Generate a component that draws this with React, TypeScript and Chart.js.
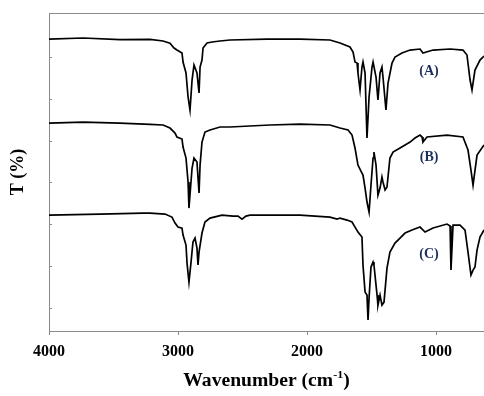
import React, { useEffect, useRef } from "react";
import { Chart, registerables } from "chart.js";

Chart.register(...registerables);

// Wavenumber (cm-1) and transmittance (%, offset spectra)
const aWavenumber = [4000, 3736, 3450, 3217, 3116, 3062, 3031, 3008, 2969, 2961, 2938, 2922, 2907, 2891, 2876, 2853, 2837, 2829, 2814, 2806, 2775, 2736, 2674, 2597, 2310, 2054, 1822, 1744, 1667, 1643, 1628, 1612, 1605, 1589, 1574, 1566, 1550, 1535, 1519, 1496, 1488, 1465, 1450, 1434, 1419, 1411, 1388, 1372, 1341, 1318, 1264, 1201, 1124, 1101, 1023, 891, 791, 760, 736, 721, 698, 659, 628];
const aTransmittance = [94.28, 94.52, 94.16, 94.21, 93.81, 93.26, 92.13, 91.65, 90.94, 88.79, 86.16, 80.42, 77.31, 84.48, 88.07, 86.16, 81.38, 87.59, 89.26, 92.13, 93.33, 93.57, 93.81, 94.05, 94.28, 94.28, 94.05, 93.33, 92.37, 91.18, 88.79, 88.55, 86.16, 82.09, 87.59, 88.79, 86.16, 70.62, 80.42, 87.59, 88.79, 85.2, 79.7, 86.16, 87.59, 85.2, 77.31, 83.77, 88.55, 89.98, 90.94, 91.65, 91.89, 90.94, 91.65, 91.89, 91.65, 90.46, 84.48, 82.09, 86.87, 89.26, 90.22];

const bWavenumber = [4000, 3736, 3450, 3217, 3116, 3062, 3023, 3008, 2969, 2961, 2938, 2922, 2915, 2891, 2876, 2853, 2837, 2829, 2814, 2791, 2752, 2674, 2597, 2287, 2054, 1822, 1744, 1682, 1651, 1628, 1605, 1574, 1566, 1550, 1535, 1519, 1504, 1488, 1481, 1465, 1450, 1434, 1419, 1411, 1395, 1380, 1357, 1333, 1279, 1201, 1163, 1124, 1108, 1101, 1070, 915, 791, 752, 729, 713, 682, 628];
const bTransmittance = [74.2, 74.44, 74.2, 73.89, 73.73, 73.01, 71.81, 70.86, 70.38, 68.47, 65.84, 60.1, 53.88, 63.45, 65.84, 64.88, 57.47, 64.16, 69.66, 72.05, 72.53, 73.25, 73.25, 73.73, 73.96, 73.73, 73.01, 72.53, 71.33, 68.23, 64.16, 62.25, 61.77, 58.66, 55.32, 52.93, 59.38, 65.84, 67.27, 64.16, 56.99, 58.66, 61.29, 60.1, 58.19, 58.9, 65.84, 67.27, 68.23, 69.66, 70.62, 71.33, 70.86, 69.66, 70.86, 71.33, 70.86, 67.75, 62.97, 59.38, 66.55, 68.94];

const cWavenumber = [4000, 3605, 3271, 3217, 3101, 3047, 3023, 3000, 2969, 2961, 2938, 2930, 2915, 2899, 2884, 2868, 2853, 2845, 2837, 2814, 2791, 2752, 2659, 2574, 2535, 2504, 2473, 2442, 2054, 1822, 1767, 1744, 1690, 1651, 1628, 1605, 1574, 1566, 1550, 1535, 1527, 1519, 1504, 1488, 1481, 1457, 1450, 1434, 1419, 1403, 1380, 1357, 1318, 1279, 1240, 1186, 1124, 1085, 1023, 915, 891, 884, 868, 814, 775, 752, 729, 713, 698, 682, 659, 628];
const cTransmittance = [52.21, 52.45, 52.69, 52.69, 52.45, 51.73, 50.3, 49.34, 49.1, 47.43, 45.04, 40.73, 36.19, 40.97, 45.76, 46.71, 44.32, 40.26, 43.36, 47.91, 50.54, 51.49, 52.21, 51.97, 51.97, 51.25, 51.97, 52.21, 52.21, 51.73, 51.25, 51.49, 51.01, 50.54, 49.34, 48.15, 46.95, 40.26, 33.8, 33.08, 27.11, 32.37, 39.78, 40.97, 40.26, 33.08, 30.69, 33.08, 30.69, 31.41, 39.54, 43.36, 45.52, 46.71, 47.91, 48.63, 49.34, 48.15, 49.11, 50.06, 49.58, 39.06, 49.82, 49.82, 48.63, 43.36, 37.87, 39.06, 39.78, 43.84, 46.95, 48.63];

const xTickValues = [4000, 3000, 2000, 1000];
const yTickValues = [30, 40, 50, 60, 70, 80, 90];
const seriesLabels = ["(A)", "(B)", "(C)"];
const labelWavenumbers = [1054, 1054, 1054];
const labelTransmittances = [86.6, 66.1, 42.9];
const xTitle = "Wavenumber (cm";
const xTitleSup = "-1";
const yTitle = "T (%)";

const SERIF = "'Liberation Serif', 'Times New Roman', serif";
const AXIS_GRAY = "#8a8a8a";

const decorPlugin = {
  id: "decor",
  afterDraw(chart: any) {
    const ctx = chart.ctx;
    const area = chart.chartArea;
    const xs = chart.scales.x;
    const ys = chart.scales.y;
    ctx.save();
    // top border
    ctx.strokeStyle = AXIS_GRAY;
    ctx.lineWidth = 1;
    ctx.beginPath();
    ctx.moveTo(area.left, area.top + 0.5);
    ctx.lineTo(area.right, area.top + 0.5);
    ctx.stroke();
    // inward y ticks
    for (const v of yTickValues) {
      const py = Math.round(ys.getPixelForValue(v)) + 0.5;
      ctx.beginPath();
      ctx.moveTo(area.left, py);
      ctx.lineTo(area.left + 3, py);
      ctx.stroke();
    }
    // series labels
    ctx.fillStyle = "#1d2f5c";
    ctx.font = `bold 14px ${SERIF}`;
    ctx.textAlign = "center";
    ctx.textBaseline = "middle";
    seriesLabels.forEach((t, i) => {
      ctx.fillText(t, xs.getPixelForValue(labelWavenumbers[i]), ys.getPixelForValue(labelTransmittances[i]));
    });
    // x title with superscript (slightly widened like the reference)
    ctx.fillStyle = "#000";
    ctx.textAlign = "left";
    ctx.textBaseline = "alphabetic";
    const mainFont = `bold 18px ${SERIF}`;
    const supFont = `bold 11px ${SERIF}`;
    ctx.font = mainFont;
    const w1 = ctx.measureText(xTitle).width;
    const w3 = ctx.measureText(")").width;
    ctx.font = supFont;
    const w2 = ctx.measureText(xTitleSup).width;
    const stretch = 1.09;
    const total = (w1 + w2 + w3) * stretch;
    const cx = (area.left + area.right) / 2;
    const base = 386;
    ctx.save();
    ctx.translate(cx - total / 2, base);
    ctx.scale(stretch, 1);
    ctx.font = mainFont;
    ctx.fillText(xTitle, 0, 0);
    ctx.font = supFont;
    ctx.fillText(xTitleSup, w1, -8);
    ctx.font = mainFont;
    ctx.fillText(")", w1 + w2, 0);
    ctx.restore();
    // y title
    ctx.translate(18, (area.top + area.bottom) / 2);
    ctx.rotate(-Math.PI / 2);
    ctx.textAlign = "center";
    ctx.textBaseline = "middle";
    ctx.font = mainFont;
    ctx.fillText(yTitle, 0, 0);
    ctx.restore();
  },
};

function makeData(wn: number[], t: number[]) {
  return wn.map((w, i) => ({ x: w, y: t[i] }));
}

export default function App() {
  const ref = useRef<HTMLCanvasElement | null>(null);
  useEffect(() => {
    if (!ref.current) return;
    const lineStyle = {
      borderColor: "#000",
      borderWidth: 1.7,
      pointRadius: 0,
      tension: 0,
      fill: false,
    };
    const chart = new Chart(ref.current, {
      type: "line",
      data: {
        datasets: [
          { label: "A", data: makeData(aWavenumber, aTransmittance), ...lineStyle },
          { label: "B", data: makeData(bWavenumber, bTransmittance), ...lineStyle },
          { label: "C", data: makeData(cWavenumber, cTransmittance), ...lineStyle },
        ],
      },
      options: {
        responsive: false,
        animation: false,
        layout: { padding: { top: 13, right: 0, left: 0, bottom: 0 } },
        plugins: { legend: { display: false }, tooltip: { enabled: false } },
        scales: {
          x: {
            type: "linear",
            reverse: true,
            min: 628,
            max: 4000,
            afterBuildTicks: (s: any) => {
              s.ticks = xTickValues.map((v) => ({ value: v }));
            },
            afterFit: (s: any) => {
              s.height = 65;
            },
            grid: { drawOnChartArea: false, drawTicks: true, tickLength: 4, color: AXIS_GRAY },
            border: { display: true, color: AXIS_GRAY, width: 1 },
            ticks: {
              color: "#000",
              padding: 7,
              maxRotation: 0,
              autoSkip: false,
              font: { family: SERIF, size: 16, weight: "bold" },
              callback: (v: any) => String(v),
            },
          },
          y: {
            type: "linear",
            min: 24.5,
            max: 100.5,
            afterFit: (s: any) => {
              s.width = 49;
            },
            grid: { display: false, drawTicks: false },
            border: { display: true, color: AXIS_GRAY, width: 1 },
            ticks: { display: false },
          },
        },
      },
      plugins: [decorPlugin],
    } as any);
    return () => chart.destroy();
  }, []);
  return (
    <div style={{ position: "fixed", left: 0, top: 0, width: 484, height: 396, background: "#fff" }}>
      <canvas ref={ref} width={484} height={396} style={{ width: 484, height: 396, display: "block" }} />
    </div>
  );
}
